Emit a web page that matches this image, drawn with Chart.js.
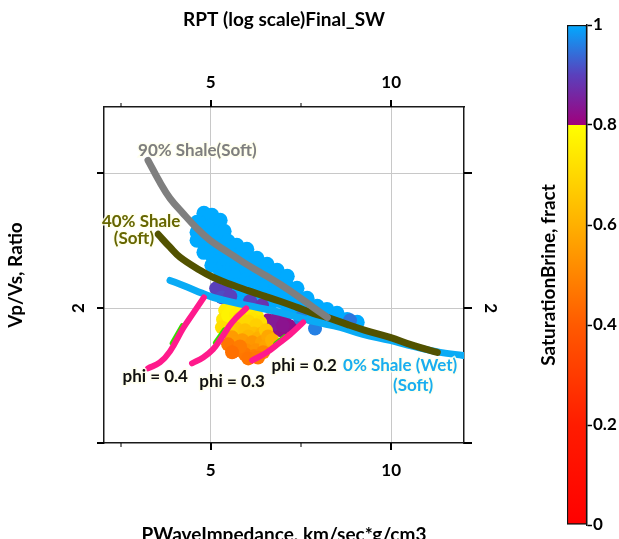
<!DOCTYPE html>
<html><head><meta charset="utf-8">
<script src="https://cdn.jsdelivr.net/npm/chart.js@4.4.0/dist/chart.umd.min.js"></script>
<style>
html,body{margin:0;padding:0;background:#fff;}
#wrap{position:relative;width:619px;height:539px;overflow:hidden;background:#fff;}
#main{position:absolute;left:0;top:0;}
#cbar{position:absolute;left:530px;top:0;}
</style></head><body>
<div id="wrap"><canvas id="main" width="619" height="539"></canvas><canvas id="cbar" width="89" height="539"></canvas></div>
<script>
// ---------- axis ticks ----------
const xTickValues = [2.5, 5, 7.5, 10];
const xTickLabels = ['', '5', '', '10'];
const xMajor = [5, 10];
const yTickValues = [1, 2, 3];
const yTickLabels = ['', '2', ''];
const yGridValues = [2, 3];
const cbTickValues = [0, 0.2, 0.4, 0.6, 0.8, 1];
const cbTickLabels = ['0', '0.2', '0.4', '0.6', '0.8', '1'];

// ---------- model lines ----------
const shale90X = [3.26,3.59,3.87,4.23,4.59,4.98,5.48,5.95,6.42,6.92,7.42,7.84,8.23];
const shale90Y = [3.095,2.932,2.813,2.702,2.598,2.502,2.413,2.331,2.257,2.176,2.087,2.005,1.931];
const shale40X = [3.54,3.87,4.15,4.70,5.06,5.54,6.01,6.51,6.92,7.39,7.84,8.31,8.78,9.28,9.97,10.61,11.28];
const shale40Y = [2.547,2.451,2.376,2.280,2.228,2.176,2.131,2.087,2.050,2.005,1.961,1.924,1.879,1.835,1.783,1.723,1.671];
const shale0X = [3.87,4.15,4.57,5.06,5.62,6.28,6.92,7.84,8.59,9.22,9.97,10.61,11.36,12.0];
const shale0Y = [2.205,2.176,2.131,2.079,2.042,2.005,1.968,1.901,1.857,1.805,1.760,1.716,1.672,1.649];
const phi04X = [3.26,3.59,3.87,4.23,4.51,4.81];
const phi04Y = [1.553,1.597,1.679,1.849,1.961,2.079];
const phi03X = [4.48,4.79,5.06,5.29,5.59,5.98];
const phi03Y = [1.590,1.634,1.694,1.776,1.894,1.998];
const phi02X = [6.15,6.56,6.92,7.20,7.56];
const phi02Y = [1.612,1.672,1.746,1.805,1.894];
const green04X = [3.93,4.21], green04Y = [1.740,1.869];
const green03X = [5.13,5.38], green03Y = [1.744,1.839];
const green02X = [6.80,7.05], green02Y = [1.736,1.788];

// ---------- well data: brine saturated cloud (Sw = 1) ----------
const brineCloud = [
 [4.62,2.635],[4.62,2.561],[4.62,2.502],
 [4.81,2.702],[4.81,2.628],[4.81,2.554],[4.81,2.480],[4.81,2.413],
 [5.03,2.687],[5.03,2.613],[5.03,2.539],[5.03,2.465],[5.03,2.391],[5.03,2.317],
 [5.26,2.650],[5.26,2.576],[5.26,2.502],[5.26,2.428],[5.26,2.354],[5.26,2.280],
 [5.37,2.569],[5.37,2.46],[5.37,2.32],
 [5.48,2.495],[5.48,2.421],[5.48,2.346],[5.48,2.272],[5.48,2.220],
 [5.60,2.45],[5.60,2.30],[5.60,2.19],
 [5.72,2.465],[5.72,2.391],[5.72,2.317],[5.72,2.243],[5.72,2.168],
 [5.86,2.41],[5.86,2.27],[5.86,2.15],
 [6.00,2.435],[6.00,2.361],[6.00,2.287],[6.00,2.213],[6.00,2.139],
 [6.14,2.33],[6.14,2.19],
 [6.28,2.369],[6.28,2.294],[6.28,2.220],[6.28,2.146],[6.28,2.087],
 [6.42,2.27],[6.42,2.13],
 [6.56,2.324],[6.56,2.250],[6.56,2.176],[6.56,2.102],
 [6.70,2.22],[6.70,2.09],
 [6.84,2.280],[6.84,2.205],[6.84,2.131],[6.84,2.057],
 [6.98,2.17],[6.98,2.05],
 [7.12,2.235],[7.12,2.161],[7.12,2.087],[7.12,2.020],
 [7.25,2.12],[7.25,2.01],
 [7.39,2.146],[7.39,2.072],[7.39,1.998],
 [7.53,2.06],[7.53,1.97],
 [7.67,2.072],[7.67,1.998],[7.67,1.946],
 [7.81,2.00],[7.81,1.93],
 [7.95,2.013],[7.95,1.938],
 [8.22,1.990],[8.22,1.924],
 [8.50,1.961],[8.50,1.902],
 [8.78,1.916],[8.78,1.879],
 [9.06,1.894],
 [5.81,2.102],[6.23,2.072],[6.64,2.035]
];
// ---------- well data: partially saturated points [x, y, Sw] ----------
const partialPts = [
 [5.15,2.146,0.90],[5.40,2.131,0.90],[5.31,2.079,0.91],[5.54,2.087,0.90],[6.09,2.050,0.90],[6.42,2.020,0.88],
 [6.59,1.909,0.83],[6.84,1.924,0.84],[7.06,1.894,0.83],[6.70,1.842,0.82],[6.95,1.835,0.82],[6.48,1.857,0.83],[7.20,1.864,0.82],
 [6.75,1.88,0.84],[7.00,1.87,0.83],
 [5.40,1.983,0.76],[5.62,1.998,0.77],[5.84,1.990,0.76],[6.06,1.968,0.75],[6.28,1.938,0.74],[5.34,1.916,0.74],[5.59,1.924,0.73],[5.31,1.857,0.72],
 [5.48,1.946,0.77],[5.70,1.953,0.76],[5.92,1.938,0.75],[6.15,1.916,0.73],[6.37,1.894,0.72],
 [5.81,1.924,0.70],[6.04,1.901,0.70],[6.26,1.872,0.68],
 [5.70,1.849,0.65],[5.95,1.835,0.64],[6.20,1.812,0.64],[6.42,1.812,0.62],
 [5.53,1.820,0.66],[6.04,1.790,0.62],[6.31,1.775,0.60],[6.53,1.835,0.66],
 [5.59,1.783,0.55],[5.87,1.761,0.55],[6.15,1.746,0.54],[6.42,1.746,0.56],[6.59,1.790,0.58],
 [5.70,1.746,0.55],[5.98,1.687,0.52],[6.26,1.687,0.53],[6.53,1.716,0.57],[6.70,1.761,0.60],
 [5.48,1.731,0.47],[5.70,1.687,0.46],[5.95,1.657,0.47],[6.20,1.642,0.48],[6.45,1.672,0.50],[5.81,1.716,0.48],
 [5.59,1.672,0.45],[6.04,1.627,0.46],[6.31,1.634,0.47],
 [7.89,1.849,0.96],[8.86,1.909,0.95],[7.48,1.924,0.96]
];

// ---------- annotations ----------
const annText  = ['90% Shale(Soft)','40% Shale','(Soft)','phi = 0.4','phi = 0.3','phi = 0.2','0% Shale (Wet)','(Soft)'];
const annX     = [4.63, 3.07, 2.87, 3.46, 5.59, 7.59, 10.25, 10.61];
const annY     = [3.17, 2.643, 2.517, 1.493, 1.456, 1.575, 1.575, 1.427];
const annColor = ['#7f7f7f','#666600','#666600','#111','#111','#111','#19aef0','#19aef0'];

// ---------- colour map ----------
const cmapLow  = [[0,'#ff0000'],[0.2,'#ff1c00'],[0.4,'#ff5a00'],[0.6,'#ffb000'],[0.8,'#ffff00']];
const cmapHigh = [[0.8,'#a0007c'],[0.9,'#5a40bc'],[1.0,'#00aaff']];

function hex2rgb(h){return [parseInt(h.substr(1,2),16),parseInt(h.substr(3,2),16),parseInt(h.substr(5,2),16)];}
function cmap(v){
  const stops = v >= 0.8 ? cmapHigh : cmapLow;
  for (let i = 0; i < stops.length - 1; i++) {
    const [v0,c0] = stops[i], [v1,c1] = stops[i+1];
    if (v <= v1) {
      const t = Math.max(0, (v - v0) / (v1 - v0));
      const a = hex2rgb(c0), b = hex2rgb(c1);
      return 'rgb(' + a.map((x,k)=>Math.round(x + (b[k]-x)*t)).join(',') + ')';
    }
  }
  return stops[stops.length-1][1];
}

const FONT = 'Lato, "Liberation Sans", sans-serif';
const zip = (xs, ys) => xs.map((x,i)=>({x, y: ys[i]}));
const lineDs = (xs, ys, color, w) => ({data: zip(xs, ys), showLine: true, borderColor: color, borderWidth: w,
  pointRadius: 0, tension: 0.4, borderCapStyle: 'round', borderJoinStyle: 'round', fill: false});

const decor = {
  id: 'decor',
  afterDraw(chart) {
    const c = chart.ctx, a = chart.chartArea, sx = chart.scales.x, sy = chart.scales.y;
    c.save();
    c.strokeStyle = '#000';
    xTickValues.forEach(v => {
      const p = Math.round(sx.getPixelForValue(v));
      const major = xMajor.includes(v);
      const len = major ? 7 : 4;
      c.lineWidth = major ? 2 : 1;
      c.beginPath();
      c.moveTo(p, a.bottom); c.lineTo(p, a.bottom + len);
      c.moveTo(p, a.top); c.lineTo(p, a.top - len);
      c.stroke();
    });
    yTickValues.forEach(v => {
      const p = Math.round(sy.getPixelForValue(v));
      c.lineWidth = 2;
      c.beginPath();
      c.moveTo(a.left, p); c.lineTo(a.left - 7, p);
      c.moveTo(a.right, p); c.lineTo(a.right + 8, p);
      c.stroke();
    });
    c.font = 'bold 17px ' + FONT;
    c.fillStyle = '#000';
    c.textAlign = 'center';
    c.textBaseline = 'middle';
    yTickValues.forEach((v, i) => {
      if (!yTickLabels[i]) return;
      const p = sy.getPixelForValue(v);
      c.save(); c.translate(a.left - 25, p); c.rotate(-Math.PI/2); c.fillText(yTickLabels[i], 0, 0); c.restore();
      c.save(); c.translate(a.right + 26, p); c.rotate(Math.PI/2); c.fillText(yTickLabels[i], 0, 0); c.restore();
    });
    annText.forEach((t, i) => {
      const px = sx.getPixelForValue(annX[i]), py = sy.getPixelForValue(annY[i]);
      c.lineWidth = 3; c.strokeStyle = 'rgba(255,255,235,0.85)';
      c.strokeText(t, px, py);
      c.fillStyle = annColor[i];
      c.fillText(t, px, py);
    });
    c.restore();
  }
};

const tickFont = {family: FONT, weight: 'bold', size: 17};
const titleFont = {family: FONT, weight: 'bold', size: 19};
const xCommon = {
  type: 'linear', min: 2.04, max: 12.02,
  afterBuildTicks: s => { s.ticks = xTickValues.map(v => ({value: v})); },
  ticks: {callback: (v, i) => xTickLabels[i], font: tickFont, color: '#000', maxRotation: 0, autoSkip: false},
  border: {display: true, color: '#1a1a1a', width: 1.5}
};

new Chart(document.getElementById('main'), {
  type: 'scatter',
  data: {
    datasets: [
      lineDs(phi04X, phi04Y, '#ff1a8c', 6),
      lineDs(phi03X, phi03Y, '#ff1a8c', 6),
      lineDs(phi02X, phi02Y, '#ff1a8c', 6),
      lineDs(green04X, green04Y, '#33dd00', 5),
      lineDs(green03X, green03Y, '#33dd00', 5),
      lineDs(green02X, green02Y, '#33dd00', 5),
      lineDs(shale90X, shale90Y, '#7f7f7f', 7),
      lineDs(shale40X, shale40Y, '#525200', 7),
      lineDs(shale0X, shale0Y, '#0aabf5', 7),
      {data: partialPts.map(p => ({x: p[0], y: p[1], sw: p[2]})), pointRadius: 7, borderWidth: 0,
       backgroundColor: ctx => cmap(ctx.raw ? ctx.raw.sw : 1), pointHoverRadius: 7},
      {data: brineCloud.map(p => ({x: p[0], y: p[1]})), pointRadius: 7.5, borderWidth: 0,
       backgroundColor: cmap(1), pointHoverRadius: 7.5}
    ]
  },
  options: {
    responsive: false, animation: false, events: [],
    layout: {padding: 0},
    plugins: {legend: {display: false}, tooltip: {enabled: false}},
    scales: {
      x: Object.assign({}, xCommon, {
        position: 'bottom',
        afterFit: s => { s.height = 96; },
        ticks: Object.assign({}, xCommon.ticks, {padding: 17}),
        grid: {color: c => (c.tick && xMajor.includes(c.tick.value)) ? '#c8c8c8' : 'rgba(0,0,0,0)', drawTicks: false, lineWidth: 1},
        title: {display: true, text: 'PWaveImpedance, km/sec*g/cm3', font: titleFont, color: '#000', padding: {top: 0, bottom: -7}}
      }),
      x2: Object.assign({}, xCommon, {
        position: 'top', axis: 'x',
        afterFit: s => { s.height = 107; },
        ticks: Object.assign({}, xCommon.ticks, {padding: 14}),
        grid: {drawOnChartArea: false, drawTicks: false},
        title: {display: true, text: 'RPT (log scale)Final_SW', font: titleFont, color: '#000', padding: {top: 8, bottom: 0}}
      }),
      y: {
        type: 'linear', position: 'left', min: 1, max: 3.49,
        afterFit: s => { s.width = 104; },
        afterBuildTicks: s => { s.ticks = yTickValues.map(v => ({value: v})); },
        ticks: {display: false},
        grid: {color: c => (c.tick && yGridValues.includes(c.tick.value)) ? '#c8c8c8' : 'rgba(0,0,0,0)', drawTicks: false},
        border: {display: true, color: '#1a1a1a', width: 1.5},
        title: {display: true, text: 'Vp/Vs, Ratio', font: titleFont, color: '#000', padding: {top: 4, bottom: 0}}
      },
      y2: {
        type: 'linear', position: 'right', axis: 'y', min: 1, max: 3.49,
        afterFit: s => { s.width = 155; },
        afterBuildTicks: s => { s.ticks = yTickValues.map(v => ({value: v})); },
        ticks: {display: false},
        grid: {drawOnChartArea: false, drawTicks: false},
        border: {display: true, color: '#1a1a1a', width: 1.5}
      }
    }
  },
  plugins: [decor]
});

// ---------- colour bar ----------
new Chart(document.getElementById('cbar'), {
  type: 'bar',
  data: {
    labels: ['SaturationBrine'],
    datasets: [{
      data: [[cbTickValues[0], cbTickValues[cbTickValues.length-1]]],
      backgroundColor: ctx => {
        const ch = ctx.chart;
        if (!ch.chartArea) return '#ff0000';
        const ys = ch.scales.y;
        const g = ch.ctx.createLinearGradient(0, ys.getPixelForValue(0), 0, ys.getPixelForValue(1));
        cmapLow.forEach(([v, col]) => g.addColorStop(v, col));
        cmapHigh.forEach(([v, col]) => g.addColorStop(v, col));
        return g;
      },
      borderColor: '#111', borderWidth: 1.5, borderSkipped: false,
      barPercentage: 1, categoryPercentage: 1
    }]
  },
  options: {
    responsive: false, animation: false, events: [],
    layout: {padding: {top: 25, bottom: 14, left: 0, right: 0}},
    plugins: {legend: {display: false}, tooltip: {enabled: false}},
    scales: {
      x: {display: false},
      y: {
        type: 'linear', position: 'right', min: 0, max: 1,
        afterFit: s => { s.width = 32; },
        afterBuildTicks: s => { s.ticks = cbTickValues.map(v => ({value: v})); },
        ticks: {callback: (v, i) => cbTickLabels[i], font: tickFont, color: '#000', padding: 1, autoSkip: false},
        grid: {drawOnChartArea: false, tickLength: 5, tickColor: '#000', tickWidth: 1.5},
        border: {display: true, color: '#111', width: 1.5}
      },
      yt: {
        type: 'linear', position: 'left', axis: 'y', min: 0, max: 1,
        afterFit: s => { s.width = 37; },
        ticks: {display: false},
        grid: {display: false},
        border: {display: false},
        title: {display: true, text: 'SaturationBrine, fract', font: titleFont, color: '#000', padding: {top: 7, bottom: 0}}
      }
    }
  }
});
</script>
</body></html>
